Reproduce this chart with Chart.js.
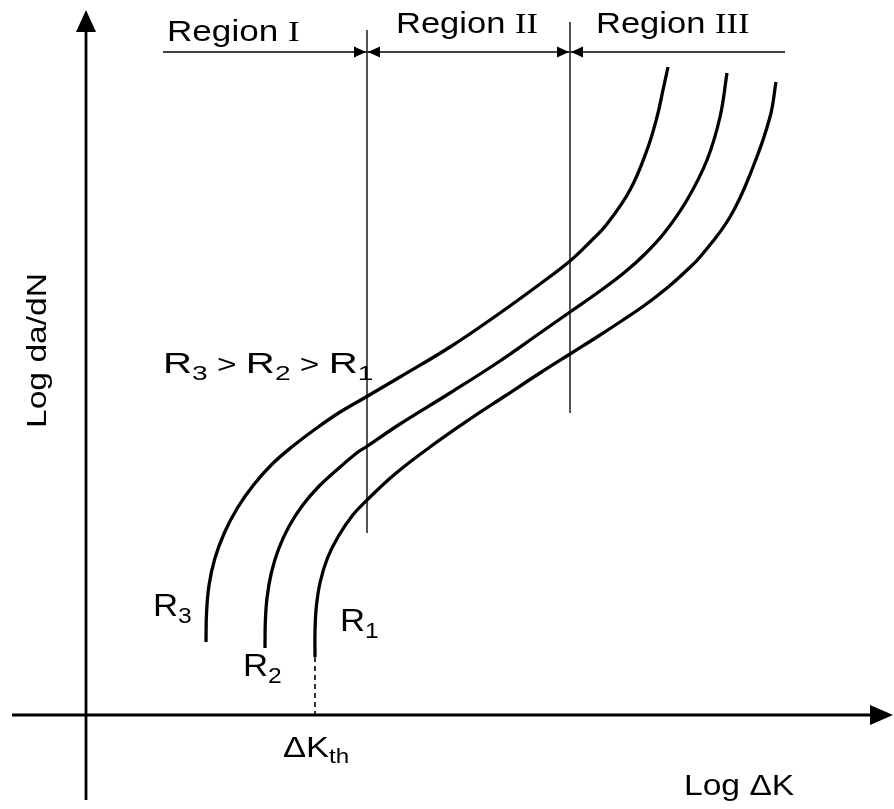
<!DOCTYPE html>
<html>
<head>
<meta charset="utf-8">
<script src="https://cdn.jsdelivr.net/npm/chart.js@4.4.0/dist/chart.umd.min.js"></script>
<style>
html, body { margin: 0; padding: 0; background: #fff; }
#wrap { width: 894px; height: 809px; }
</style>
</head>
<body>
<div id="wrap"><canvas id="crackChart" width="894" height="809"></canvas></div>
<script>
//// Curve values (x = log dK, y = log da/dN, picture units, y grows downward)
const r1X = [315, 315, 316.3, 320.2, 327.5, 338.5, 352.8, 366, 395, 430, 470, 505, 540, 570, 597, 623, 645, 667, 685, 700, 730, 753, 770, 776];
const r1Y = [657, 632, 607, 582, 558, 536, 515, 501, 474, 447, 419, 396, 373, 354, 337, 320, 305, 288, 272, 257, 217, 167, 117, 82];
const r2X = [265, 265.3, 267, 271.3, 278.6, 289.2, 302.8, 319.2, 337.8, 358, 366, 400, 450, 500, 540, 570, 600, 625, 645, 665, 687, 707, 720, 727];
const r2Y = [648, 623, 598, 573, 549, 526, 505, 486, 469, 452, 447, 424, 393, 361, 333, 312, 291, 272, 254, 232, 200, 160, 117, 73];
const r3X = [206, 206.5, 208.9, 214.7, 224.3, 237.4, 253.5, 272.2, 293, 315.4, 338.6, 366, 400, 450, 500, 540, 570, 590, 607, 630, 647, 657, 663, 668];
const r3Y = [642, 614, 586, 559, 533, 508, 485, 464, 446, 429, 413, 397, 377, 347, 313, 284, 261, 242, 224, 190, 150, 117, 90, 67];

//// Region boundaries and threshold
const regionX = [367, 570];
const regionTop = [30, 22];
const regionBottom = [533, 413];
const regionArrowY = 52;
const regionArrowStart = 163;
const regionArrowEnd = 785;
const dKth = 315;
const dKthTop = 657;

//// Axes (origin and ends)
const axisX = [12, 872];   // horizontal axis, y = axisY
const axisY = 715;
const axisV = [800, 30];   // vertical axis, x = axisV0
const axisV0 = 86;

function pts(xs, ys) {
  return xs.map((x, i) => ({ x: x, y: ys[i] }));
}

const curveStyle = {
  showLine: true,
  borderColor: "#000",
  borderWidth: 3.3,
  pointRadius: 0,
  tension: 0.4,
  fill: false,
};
const thinLine = {
  showLine: true,
  borderColor: "#2a2a2a",
  borderWidth: 1.6,
  pointRadius: 0,
  fill: false,
};

const datasets = [
  { label: "R1", data: pts(r1X, r1Y), ...curveStyle },
  { label: "R2", data: pts(r2X, r2Y), ...curveStyle },
  { label: "R3", data: pts(r3X, r3Y), ...curveStyle },
  { label: "b1", data: [{ x: regionX[0], y: regionTop[0] }, { x: regionX[0], y: regionBottom[0] }], ...thinLine },
  { label: "b2", data: [{ x: regionX[1], y: regionTop[1] }, { x: regionX[1], y: regionBottom[1] }], ...thinLine },
  { label: "arrows", data: [{ x: regionArrowStart, y: regionArrowY }, { x: regionArrowEnd, y: regionArrowY }], ...thinLine, borderColor: "#000" },
  { label: "kth", data: [{ x: dKth, y: dKthTop }, { x: dKth, y: axisY }], ...thinLine, borderColor: "#000", borderDash: [5, 4] },
  { label: "xaxis", data: [{ x: axisX[0], y: axisY }, { x: axisX[1], y: axisY }], ...thinLine, borderColor: "#000", borderWidth: 2.8 },
  { label: "yaxis", data: [{ x: axisV0, y: axisV[0] }, { x: axisV0, y: axisV[1] }], ...thinLine, borderColor: "#000", borderWidth: 2.8 },
];

// draw text made of parts, stretched horizontally like the picture
function drawRich(ctx, x, y, parts, sx) {
  ctx.save();
  ctx.translate(x, y);
  ctx.scale(sx, 1);
  let cx = 0;
  for (const p of parts) {
    ctx.font = `${p.size}px ${p.family || "'Liberation Sans', Arial, sans-serif"}`;
    ctx.fillText(p.t, cx, p.dy || 0);
    cx += ctx.measureText(p.t).width;
  }
  ctx.restore();
}

function tri(ctx, tip, base1, base2) {
  ctx.beginPath();
  ctx.moveTo(tip[0], tip[1]);
  ctx.lineTo(base1[0], base1[1]);
  ctx.lineTo(base2[0], base2[1]);
  ctx.closePath();
  ctx.fill();
}

const SERIF = "'Liberation Serif', 'Times New Roman', serif";

const decorPlugin = {
  id: "decor",
  afterDatasetsDraw(chart) {
    const ctx = chart.ctx;
    const xs = chart.scales.x;
    const ys = chart.scales.y;
    const px = (v) => xs.getPixelForValue(v);
    const py = (v) => ys.getPixelForValue(v);
    ctx.save();
    ctx.fillStyle = "#000";

    // axis arrow heads
    tri(ctx, [px(axisV0), py(10)], [px(axisV0) - 10, py(axisV[1]) + 2], [px(axisV0) + 10, py(axisV[1]) + 2]);
    tri(ctx, [px(893), py(axisY)], [px(axisX[1]) - 2, py(axisY) - 10], [px(axisX[1]) - 2, py(axisY) + 10]);

    // region arrows
    const ay = py(regionArrowY);
    const b1 = px(regionX[0]);
    const b2 = px(regionX[1]);
    tri(ctx, [b1 - 1, ay], [b1 - 13, ay - 5.5], [b1 - 13, ay + 5.5]);
    tri(ctx, [b1 + 1, ay], [b1 + 13, ay - 5.5], [b1 + 13, ay + 5.5]);
    tri(ctx, [b2 - 1, ay], [b2 - 13, ay - 5.5], [b2 - 13, ay + 5.5]);
    tri(ctx, [b2 + 1, ay], [b2 + 13, ay - 5.5], [b2 + 13, ay + 5.5]);

    // region labels
    ctx.textBaseline = "alphabetic";
    drawRich(ctx, px(167), py(41), [{ t: "Region ", size: 30 }, { t: "I", size: 30, family: SERIF }], 1.17);
    drawRich(ctx, px(396), py(33), [{ t: "Region ", size: 30 }, { t: "II", size: 30, family: SERIF }], 1.15);
    drawRich(ctx, px(596), py(33), [{ t: "Region ", size: 30 }, { t: "III", size: 30, family: SERIF }], 1.15);

    // R ordering
    drawRich(ctx, px(163), py(373), [
      { t: "R", size: 30 }, { t: "3", size: 21, dy: 7 },
      { t: " > ", size: 25 },
      { t: "R", size: 30 }, { t: "2", size: 21, dy: 7 },
      { t: " > ", size: 25 },
      { t: "R", size: 30 }, { t: "1", size: 21, dy: 7 },
    ], 1.34);

    // curve labels
    drawRich(ctx, px(153), py(616), [{ t: "R", size: 31 }, { t: "3", size: 22, dy: 7 }], 1.12);
    drawRich(ctx, px(243), py(676), [{ t: "R", size: 31 }, { t: "2", size: 22, dy: 7 }], 1.12);
    drawRich(ctx, px(340), py(631), [{ t: "R", size: 31 }, { t: "1", size: 22, dy: 7 }], 1.12);

    // axis labels
    drawRich(ctx, px(283), py(757), [{ t: "\u0394K", size: 30 }, { t: "th", size: 21, dy: 6 }], 1.15);
    drawRich(ctx, px(684), py(795), [{ t: "Log \u0394K", size: 30 }], 1.12);

    ctx.save();
    ctx.translate(px(46), py(428));
    ctx.rotate(-Math.PI / 2);
    drawRich(ctx, 0, 0, [{ t: "Log da/dN", size: 28 }], 1.2);
    ctx.restore();

    ctx.restore();
  },
};

new Chart(document.getElementById("crackChart"), {
  type: "scatter",
  data: { datasets: datasets },
  options: {
    responsive: false,
    animation: false,
    devicePixelRatio: 1,
    layout: { padding: 0 },
    plugins: { legend: { display: false }, tooltip: { enabled: false } },
    scales: {
      x: { type: "linear", display: false, min: 0, max: 894 },
      y: { type: "linear", display: false, min: 0, max: 809, reverse: true },
    },
  },
  plugins: [decorPlugin],
});
</script>
</body>
</html>
